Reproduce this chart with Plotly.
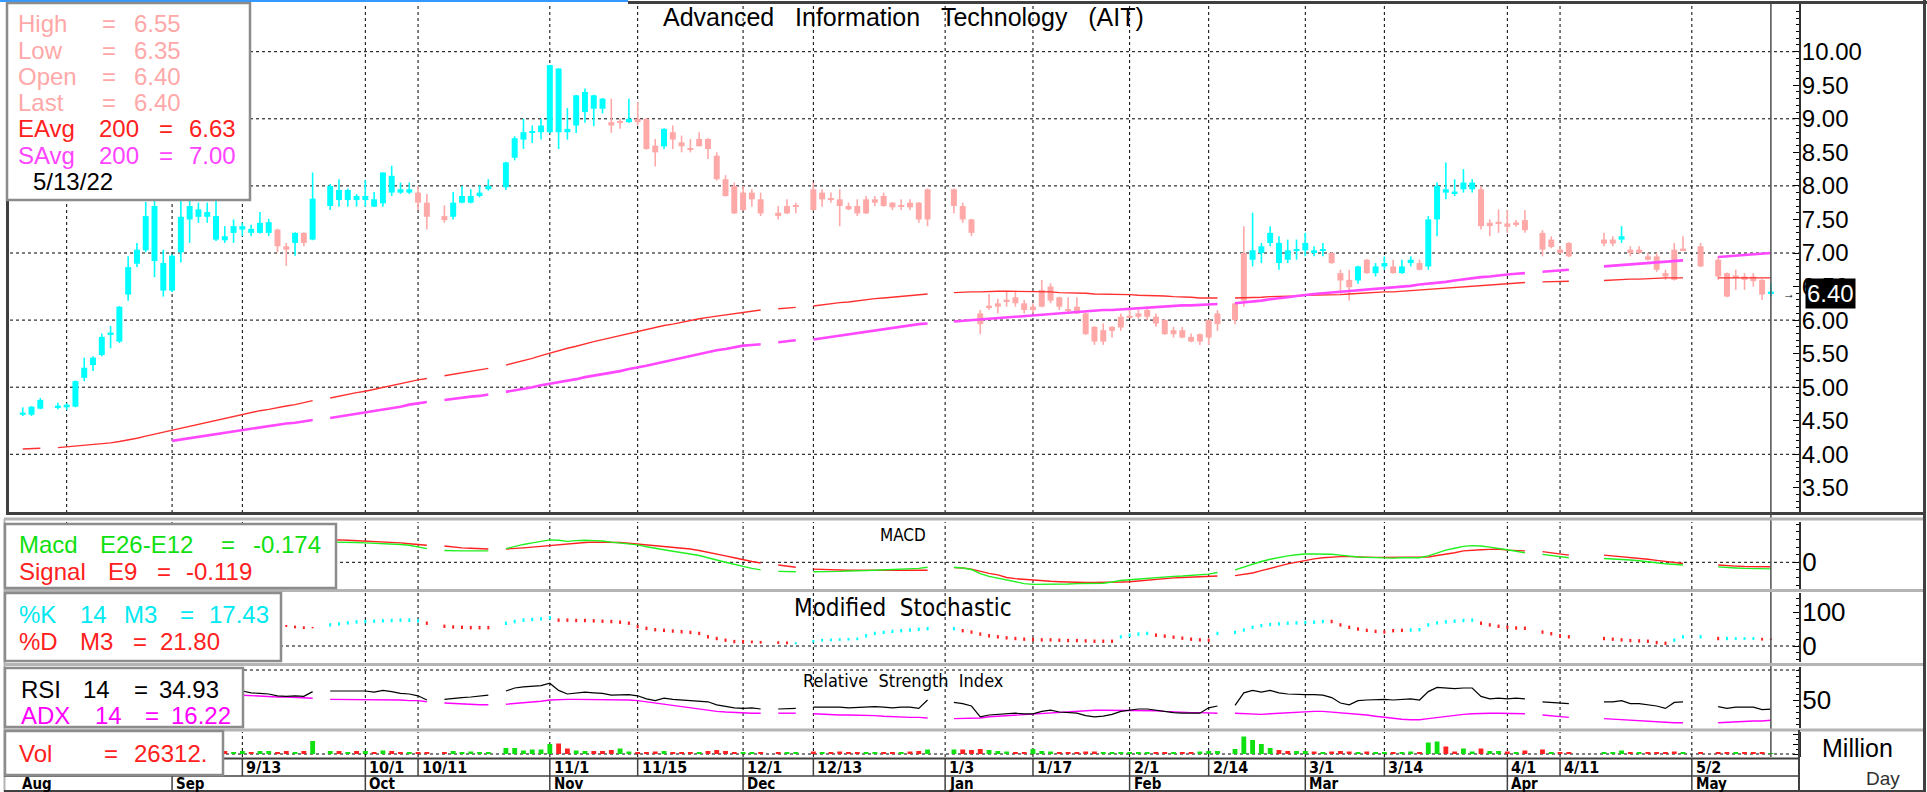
import pandas as pd
import plotly.graph_objects as go

W, H = 1927, 792
SANS = "Liberation Sans, Arial, sans-serif"
NARROW = "Liberation Sans Narrow, Arial Narrow, DejaVu Sans Condensed, sans-serif"

# ---------------- data ----------------
START, END = "2021-08-09", "2022-05-13"
HOLIDAYS = ["2021-08-12", "2021-09-24", "2021-10-13", "2021-10-22", "2021-12-06",
            "2021-12-10", "2021-12-31", "2022-01-03", "2022-02-16", "2022-04-06",
            "2022-04-13", "2022-04-14", "2022-04-15", "2022-05-02", "2022-05-04"]

OPEN = [4.59,4.59,4.68,4.70,4.70,4.71,5.14,5.33,5.48,5.79,5.68,6.38,6.84,7.04,6.88,6.44,
        6.44,7.01,7.50,7.54,7.54,7.20,7.19,7.30,7.35,7.30,7.30,7.30,7.35,7.10,7.15,7.30,7.20,7.70,7.79,7.79,7.79,
        7.79,7.69,7.74,7.90,7.90,7.90,7.90,7.75,7.55,7.54,7.75,7.75,7.85,7.95,7.98,8.42,8.69,8.79,8.80,
        8.80,8.80,8.80,8.90,9.10,9.15,9.15,8.95,8.96,8.95,9.00,9.00,8.60,8.59,8.80,8.65,8.56,8.70,8.70,8.45,8.10,8.00,
        7.90,7.90,7.80,7.60,7.70,7.71,7.95,7.90,7.81,7.80,7.70,7.70,7.80,7.80,7.85,7.75,7.71,7.75,7.75,7.95,
        7.95,7.70,7.50,6.10,6.21,6.25,6.30,6.34,6.25,6.20,6.45,6.50,6.34,6.16,6.20,6.10,5.90,5.85,5.90,6.05,
        6.06,6.10,6.15,6.05,6.00,5.85,5.85,5.75,5.79,6.00,6.10,6.25,7.00,6.90,7.00,7.15,6.85,6.90,7.03,
        7.04,7.00,7.03,7.00,6.70,6.60,6.59,6.90,6.70,6.80,6.80,6.70,6.85,6.85,6.80,7.50,7.90,7.89,7.95,7.95,7.95,7.45,7.46,
        7.44,7.45,7.49,7.30,7.20,7.05,7.15,7.20,7.20,7.20,7.05,7.05,6.95,6.95,6.70,7.05,7.06,
        7.10,6.90,6.70,6.66,6.65,6.65,6.60,6.40]
HIGH = [4.70,4.72,4.84,4.77,4.76,5.10,5.44,5.46,5.80,5.91,6.21,6.95,7.15,7.76,7.80,7.05,
        6.98,7.86,7.81,7.75,7.75,7.80,7.40,7.50,7.45,7.42,7.61,7.51,7.36,7.15,7.31,7.31,8.20,8.03,8.10,7.96,7.88,
        8.09,7.91,8.20,8.30,8.05,8.05,8.00,7.88,7.71,7.91,8.00,7.95,8.01,8.10,8.36,8.74,9.00,8.90,9.00,
        9.80,9.75,9.16,9.36,9.45,9.36,9.31,9.30,9.00,9.30,9.25,9.01,8.70,8.86,8.90,8.75,8.70,8.80,8.71,8.50,8.16,8.05,
        8.00,7.95,7.90,7.70,7.80,7.75,8.05,7.95,7.90,7.95,7.75,7.80,7.85,7.85,7.90,7.76,7.80,7.80,7.76,7.96,
        7.96,7.75,7.51,6.15,6.39,6.32,6.42,6.42,6.30,6.25,6.60,6.55,6.35,6.34,6.34,6.11,5.91,5.95,5.91,6.10,
        6.17,6.15,6.20,6.10,6.01,5.90,5.90,5.80,5.80,6.01,6.15,6.26,7.40,7.60,7.15,7.40,7.25,7.20,7.20,
        7.30,7.10,7.15,7.01,6.75,6.75,6.81,6.91,6.85,6.95,6.90,6.90,6.95,6.90,7.55,8.05,8.35,8.10,8.25,8.10,8.00,7.50,7.65,
        7.64,7.49,7.64,7.34,7.25,7.10,7.16,7.30,7.25,7.40,7.10,7.10,7.00,7.00,6.75,7.15,7.25,
        7.15,6.95,6.71,6.75,6.70,6.70,6.61,6.55]
LOW = [4.57,4.57,4.67,4.67,4.66,4.70,5.09,5.24,5.46,5.58,5.66,6.29,6.79,7.01,6.64,6.35,
       6.42,6.86,7.15,7.45,7.45,7.18,7.15,7.15,7.25,7.25,7.29,7.25,7.01,6.81,6.96,7.10,7.19,7.64,7.69,7.69,7.69,
       7.69,7.69,7.69,7.85,7.88,7.88,7.64,7.35,7.45,7.50,7.74,7.74,7.83,7.93,7.94,8.38,8.55,8.64,8.69,
       8.78,8.55,8.69,8.79,8.94,8.89,9.08,8.79,8.85,8.94,8.90,8.54,8.29,8.55,8.55,8.50,8.50,8.59,8.40,8.08,7.84,7.58,
       7.63,7.69,7.55,7.50,7.58,7.59,7.63,7.69,7.75,7.40,7.64,7.55,7.58,7.70,7.69,7.64,7.64,7.64,7.45,7.40,
       7.59,7.45,7.25,5.79,6.15,6.10,6.20,6.20,6.10,6.10,6.19,6.25,6.15,6.10,6.09,5.78,5.63,5.63,5.74,5.84,
       6.04,6.02,6.00,5.90,5.78,5.74,5.73,5.67,5.63,5.63,5.84,5.94,6.20,6.80,6.85,7.10,6.75,6.85,6.90,
       6.95,6.95,6.95,6.84,6.39,6.29,6.54,6.69,6.65,6.75,6.69,6.69,6.80,6.74,6.75,7.25,7.80,7.85,7.90,7.90,7.35,7.25,7.30,
       7.30,7.39,7.30,6.95,7.07,6.99,6.94,7.10,7.10,7.15,6.95,6.99,6.89,6.72,6.60,6.59,7.04,
       6.79,6.60,6.34,6.45,6.45,6.50,6.30,6.35]
CLOSE = [4.62,4.71,4.81,4.72,4.74,5.09,5.29,5.44,5.75,5.81,6.20,6.79,7.05,7.55,7.70,6.85,
         6.96,7.54,7.70,7.65,7.61,7.55,7.25,7.40,7.40,7.36,7.45,7.46,7.10,7.05,7.30,7.15,7.81,8.00,7.94,7.94,7.85,
         7.85,7.80,8.20,8.15,7.95,7.95,7.75,7.54,7.49,7.75,7.85,7.85,7.90,8.00,8.35,8.71,8.80,8.81,8.90,
         9.80,9.75,8.85,9.35,9.40,9.35,9.30,8.90,8.94,9.00,8.95,8.55,8.50,8.85,8.69,8.59,8.54,8.59,8.55,8.10,7.85,7.59,
         7.64,7.80,7.59,7.55,7.59,7.69,7.64,7.80,7.79,7.70,7.65,7.59,7.59,7.75,7.70,7.68,7.69,7.68,7.50,7.50,
         7.70,7.50,7.30,5.94,6.19,6.20,6.28,6.25,6.15,6.15,6.20,6.29,6.20,6.14,6.10,5.79,5.68,5.68,5.84,5.89,
         6.04,6.05,6.05,5.95,5.79,5.79,5.74,5.68,5.68,5.74,5.94,6.00,6.29,7.04,7.10,7.30,7.15,7.04,7.05,
         7.15,7.04,7.05,6.85,6.59,6.49,6.80,6.70,6.80,6.85,6.70,6.80,6.90,6.75,7.50,8.00,7.95,7.91,8.05,8.05,7.40,7.40,7.44,
         7.39,7.43,7.34,7.05,7.09,7.00,6.95,7.14,7.14,7.25,7.00,7.00,6.90,6.75,6.65,6.60,7.04,
         6.80,6.65,6.35,6.64,6.60,6.58,6.38,6.40]

EMA200 = [4.08,4.08,4.09,4.10,4.11,4.12,4.13,4.14,4.15,4.17,4.19,4.21,4.24,4.27,4.30,4.33,
          4.36,4.39,4.42,4.45,4.48,4.51,4.54,4.57,4.60,4.62,4.65,4.67,4.70,4.72,4.74,4.77,4.80,4.84,4.87,4.89,4.92,
          4.94,4.97,5.00,5.03,5.06,5.08,5.11,5.13,5.17,5.19,5.21,5.24,5.26,5.28,5.33,5.36,5.40,5.43,5.47,
          5.51,5.54,5.58,5.61,5.65,5.68,5.71,5.74,5.77,5.80,5.84,5.86,5.89,5.92,5.94,5.97,5.99,6.02,6.04,6.06,6.08,6.10,
          6.12,6.14,6.15,6.17,6.18,6.19,6.21,6.23,6.24,6.26,6.27,6.29,6.30,6.32,6.33,6.34,6.36,6.37,6.38,6.39,
          6.41,6.42,6.42,6.42,6.43,6.43,6.43,6.43,6.42,6.42,6.42,6.42,6.41,6.41,6.40,6.40,6.39,6.39,6.38,6.38,
          6.38,6.37,6.37,6.36,6.36,6.35,6.35,6.34,6.33,6.33,6.33,6.33,6.33,6.34,6.34,6.35,6.35,6.36,6.36,
          6.37,6.37,6.38,6.38,6.38,6.39,6.40,6.40,6.41,6.42,6.42,6.43,6.44,6.44,6.45,6.46,6.47,6.49,6.50,6.51,6.52,6.53,6.54,
          6.55,6.55,6.56,6.57,6.57,6.58,6.58,6.59,6.60,6.60,6.61,6.61,6.62,6.62,6.63,6.63,6.63,
          6.63,6.63,6.63,6.63,6.63,6.63,6.63,6.63]
SMA200 = [None] * 16 + [
          4.20,4.22,4.24,4.27,4.29,4.31,4.33,4.35,4.37,4.39,4.40,4.42,4.44,4.46,4.47,4.49,4.51,4.54,4.56,4.58,4.60,
          4.62,4.64,4.67,4.69,4.71,4.74,4.76,4.78,4.81,4.83,4.84,4.86,4.87,4.89,4.93,4.95,4.98,5.00,5.03,
          5.05,5.07,5.10,5.12,5.15,5.17,5.19,5.22,5.24,5.27,5.29,5.32,5.35,5.38,5.40,5.43,5.46,5.49,5.52,5.55,5.57,5.60,
          5.62,5.63,5.64,5.67,5.68,5.70,5.71,5.73,5.75,5.77,5.79,5.81,5.83,5.85,5.87,5.89,5.90,5.92,5.94,5.95,
          5.98,5.99,6.00,6.01,6.02,6.03,6.04,6.05,6.07,6.08,6.09,6.10,6.10,6.11,6.12,6.13,6.14,6.15,6.15,6.16,
          6.17,6.18,6.19,6.19,6.20,6.21,6.22,6.22,6.23,6.24,6.24,6.25,6.26,6.28,6.29,6.31,6.32,6.34,6.36,
          6.38,6.39,6.40,6.41,6.42,6.43,6.44,6.45,6.46,6.47,6.48,6.50,6.51,6.53,6.54,6.56,6.57,6.59,6.61,6.62,6.64,6.65,6.67,
          6.68,6.69,6.70,6.72,6.73,6.74,6.75,6.80,6.81,6.82,6.83,6.84,6.85,6.86,6.87,6.88,6.89,
          6.92,6.94,6.95,6.96,6.97,6.98,6.99,7.00]

MACD = [0.05,0.07,0.09,0.11,0.13,0.17,0.21,0.25,0.30,0.34,0.40,0.47,0.53,0.60,0.64,0.62,
        0.63,0.66,0.68,0.69,0.69,0.67,0.64,0.62,0.60,0.58,0.56,0.55,0.52,0.49,0.48,0.46,0.50,0.53,0.53,0.52,0.52,
        0.51,0.50,0.50,0.49,0.47,0.45,0.41,0.36,0.31,0.30,0.30,0.30,0.30,0.30,0.36,0.42,0.47,0.51,0.55,
        0.59,0.58,0.55,0.57,0.58,0.57,0.56,0.53,0.51,0.49,0.46,0.41,0.36,0.33,0.29,0.26,0.22,0.18,0.13,0.06,0.00,-0.06,
        -0.12,-0.16,-0.20,-0.24,-0.25,-0.25,-0.25,-0.25,-0.24,-0.24,-0.23,-0.23,-0.22,-0.21,-0.20,-0.19,-0.18,-0.17,-0.16,-0.13,
        -0.13,-0.15,-0.19,-0.30,-0.37,-0.42,-0.48,-0.53,-0.56,-0.58,-0.58,-0.57,-0.57,-0.57,-0.56,-0.56,-0.56,-0.55,-0.52,-0.48,
        -0.46,-0.44,-0.42,-0.40,-0.38,-0.37,-0.36,-0.34,-0.33,-0.31,-0.27,-0.20,-0.12,-0.05,0.02,0.08,0.13,0.17,0.20,
        0.22,0.22,0.22,0.21,0.19,0.16,0.14,0.13,0.12,0.11,0.11,0.12,0.12,0.12,0.17,0.25,0.32,0.37,0.42,0.44,0.43,0.40,0.37,
        0.33,0.29,0.25,0.21,0.18,0.14,0.12,0.10,0.09,0.08,0.06,0.04,0.02,-0.01,-0.04,-0.06,-0.07,
        -0.09,-0.12,-0.14,-0.15,-0.16,-0.16,-0.17,-0.174]
SIGNAL = [0.02,0.03,0.04,0.05,0.07,0.09,0.11,0.14,0.17,0.20,0.24,0.28,0.33,0.38,0.43,0.47,
          0.50,0.53,0.56,0.58,0.60,0.61,0.62,0.62,0.62,0.61,0.60,0.60,0.59,0.58,0.57,0.56,0.56,0.58,0.59,0.58,0.57,
          0.56,0.55,0.54,0.53,0.51,0.49,0.47,0.45,0.43,0.40,0.38,0.37,0.36,0.35,0.35,0.36,0.38,0.40,0.42,
          0.44,0.47,0.49,0.50,0.52,0.53,0.53,0.53,0.52,0.50,0.48,0.46,0.44,0.42,0.40,0.37,0.35,0.31,0.27,0.22,0.17,0.12,
          0.06,0.02,-0.02,-0.07,-0.10,-0.13,-0.18,-0.19,-0.20,-0.21,-0.21,-0.21,-0.21,-0.21,-0.21,-0.21,-0.21,-0.21,-0.21,-0.21,
          -0.14,-0.15,-0.18,-0.24,-0.29,-0.33,-0.40,-0.43,-0.45,-0.46,-0.48,-0.50,-0.51,-0.52,-0.53,-0.53,-0.53,-0.53,-0.52,-0.52,
          -0.51,-0.49,-0.47,-0.45,-0.42,-0.41,-0.40,-0.39,-0.38,-0.37,-0.36,-0.35,-0.32,-0.28,-0.22,-0.15,-0.10,-0.04,0.01,
          0.06,0.09,0.12,0.14,0.15,0.15,0.14,0.14,0.13,0.13,0.13,0.13,0.13,0.13,0.14,0.18,0.21,0.25,0.30,0.32,0.33,0.34,0.35,
          0.32,0.31,0.30,0.28,0.25,0.21,0.19,0.19,0.17,0.15,0.12,0.10,0.08,0.05,0.02,-0.01,-0.03,
          -0.05,-0.07,-0.09,-0.10,-0.11,-0.11,-0.12,-0.119]

STOCH_K = [60,70,80,82,85,90,92,94,95,95,96,97,96,96,90,80,
           78,82,85,84,82,76,70,66,64,62,60,60,56,56,52,50,52,67,70,73,76,
           77,78,79,80,81,81,79,62,53,51,50,49,49,49,72,77,81,83,85,
           88,71,71,70,70,69,68,67,65,62,52,47,43,41,39,37,35,32,22,17,12,8,
           8,8,7,6,5,11,18,21,22,23,24,25,35,42,45,48,50,52,54,56,
           56,40,36,30,25,22,19,17,15,14,13,13,12,11,11,10,9,9,9,32,
           37,40,42,27,24,21,18,15,13,12,42,45,52,60,65,68,70,72,73,
           74,75,77,67,57,50,45,41,38,36,40,41,52,53,67,73,76,78,80,81,62,57,53,
           50,48,47,36,31,25,22,17,15,13,11,10,9,5,3,22,32,
           32,17,27,26,26,26,16,17.43]
STOCH_D = [55,60,70,78,80,84,88,90,92,94,94,95,96,96,94,88,
           84,82,82,84,84,82,78,72,68,66,64,62,60,62,60,58,56,57,60,63,66,
           67,68,69,70,71,71,69,72,63,61,60,59,59,59,62,67,71,73,75,
           78,81,81,80,80,79,78,77,75,72,62,57,53,51,49,47,45,42,32,27,22,18,
           18,16,15,14,13,5,10,13,14,15,16,17,25,32,35,38,40,42,44,46,
           46,50,46,40,35,32,29,27,25,24,23,23,22,21,21,20,19,19,19,22,
           27,30,32,37,34,31,28,25,23,22,32,35,42,50,55,58,60,62,63,
           64,65,67,77,67,60,55,51,48,46,50,51,42,43,57,63,66,68,70,71,72,67,63,
           60,58,57,46,41,35,32,27,25,23,21,20,19,15,13,12,22,
           22,27,17,18,18,18,24,21.80]

RSI = [55,60,64,64,65,72,75,77,80,80,84,87,88,90,88,80,
       81,84,84,83,82,75,72,70,65,62,61,60,57,56,57,56,64,65,65,64,65,
       65,63,66,64,61,60,57,50,51,53,54,55,56,58,65,70,72,73,74,
       78,66,60,61,63,62,61,58,58,59,57,52,49,53,51,50,49,49,47,42,39,37,
       36,37,35,35,36,36,38,38,39,38,37,38,38,39,38,37,38,38,36,50,
       46,44,40,22,25,26,27,28,27,27,31,33,30,29,28,24,22,23,26,31,
       33,35,35,33,30,29,28,28,28,37,40,41,62,66,63,66,62,60,59,
       59,59,58,54,45,42,49,50,51,51,50,51,52,50,64,71,70,69,70,70,56,52,53,
       52,53,52,47,46,45,44,47,47,49,44,44,42,40,36,46,47,
       42,39,36,38,38,38,34,34.93]
ADX = [20,21,22,23,24,26,28,30,33,35,38,41,44,47,50,52,
       54,56,58,59,60,60,60,59,58,57,56,56,55,55,54,54,53,51,51,51,51,
       51,50,50,50,50,49,49,47,45,44,43,43,42,42,43,44,45,46,48,
       50,51,51,51,51,51,51,50,50,50,49,47,44,42,40,38,37,35,33,31,30,29,
       29,28,28,28,28,28,27,26,25,25,25,25,24,24,23,22,21,21,21,20,
       19,19,19,20,22,23,24,25,26,27,28,29,30,30,31,32,33,33,33,33,
       33,33,32,32,31,30,30,29,29,29,28,28,27,26,26,27,28,29,30,
       31,31,31,30,29,28,27,25,23,21,19,18,17,17,19,21,23,25,26,27,28,28,28,
       28,28,27,25,24,22,21,19,18,18,16,15,14,13,13,12,12,
       12,12,13,13,14,15,15,16.22]

VOLUME_M = [0.3,0.4,0.5,0.3,0.3,1.2,0.8,0.7,0.9,0.6,1.5,1.4,1.0,1.3,1.2,0.8,
            0.8,0.9,0.5,0.4,0.3,0.4,0.3,0.2,0.3,0.2,0.3,0.3,0.2,0.3,0.2,0.3,1.3,0.3,0.3,0.2,0.3,
            0.3,0.2,0.35,0.3,0.2,0.2,0.2,0.15,0.15,0.3,0.2,0.25,0.2,0.2,0.6,0.6,0.35,0.45,0.45,
            1.0,1.05,0.55,0.35,0.3,0.3,0.3,0.4,0.55,0.25,0.2,0.2,0.25,0.3,0.2,0.2,0.2,0.2,0.3,0.4,0.3,0.2,
            0.2,0.2,0.15,0.2,0.15,0.2,0.25,0.2,0.15,0.25,0.2,0.2,0.15,0.2,0.15,0.2,0.2,0.25,0.3,0.45,
            0.45,0.45,0.4,0.5,0.4,0.3,0.25,0.2,0.2,0.5,0.3,0.25,0.2,0.2,0.2,0.25,0.25,0.2,0.15,0.15,
            0.15,0.2,0.2,0.2,0.15,0.2,0.15,0.2,0.25,0.3,0.3,0.5,1.75,1.4,1.0,0.6,0.4,0.3,0.3,
            0.3,0.25,0.2,0.25,0.3,0.25,0.2,0.25,0.15,0.15,0.2,0.2,0.25,0.2,1.15,1.25,0.75,0.25,0.55,0.25,0.55,0.3,0.3,
            0.25,0.2,0.35,0.45,0.15,0.15,0.15,0.2,0.2,0.35,0.2,0.15,0.2,0.2,0.2,0.25,0.2,
            0.15,0.2,0.2,0.15,0.2,0.15,0.2,0.026312]

WEEK_LABELS = ["9/13", "10/1", "10/11", "11/1", "11/15", "12/1", "12/13", "1/3", "1/17",
               "2/1", "2/14", "3/1", "3/14", "4/1", "4/11", "5/2"]
WEEK_DATES = ["2021-09-13", "2021-10-01", "2021-10-11", "2021-11-01", "2021-11-15", "2021-12-01",
              "2021-12-13", "2022-01-03", "2022-01-17", "2022-02-01", "2022-02-14", "2022-03-01",
              "2022-03-14", "2022-04-01", "2022-04-11", "2022-05-02"]
GRID_EXTRA_DATES = ["2021-08-16", "2021-09-01"]
MONTH_LABELS = ["Aug", "Sep", "Oct", "Nov", "Dec", "Jan", "Feb", "Mar", "Apr", "May"]
MONTH_DATES = ["2021-08-09", "2021-09-01", "2021-10-01", "2021-11-01", "2021-12-01", "2022-01-03",
               "2022-02-01", "2022-03-01", "2022-04-01", "2022-05-02"]

# ---------------- slot mapping ----------------
slots = pd.bdate_range(START, END)
N = len(slots)
pos = {d: i for i, d in enumerate(slots)}
hol = set(pd.to_datetime(HOLIDAYS))
X = [i for i, d in enumerate(slots) if d not in hol]
for arr in (OPEN, HIGH, LOW, CLOSE, EMA200, SMA200, MACD, SIGNAL, STOCH_K, STOCH_D, RSI, ADX, VOLUME_M):
    assert len(arr) == len(X), (len(arr), len(X))


def full(vals):
    out = [None] * N
    for x, v in zip(X, vals):
        out[x] = v
    return out


def xp(px):
    return px / W


def yp(py):
    return 1 - py / H


def slot(datestr):
    return pos[pd.Timestamp(datestr)]


# pixel geometry of panels
X_LEFT, X_AXIS, X_RIGHT = 10, 1799, 1923
MAIN = (4, 513)
MACD_P = (522, 589)
STO_P = (593, 662)
RSI_P = (667, 728)
VOL_P = (732, 757)

CYAN = "#00FFFF"
PINK = "#FFA8A8"

fig = go.Figure()

# ---- candles ----
for up, col in ((True, CYAN), (False, PINK)):
    idx = [i for i in range(len(X)) if (CLOSE[i] >= OPEN[i]) == up]
    wx, wy = [], []
    for i in idx:
        wx += [X[i], X[i], None]
        wy += [LOW[i], HIGH[i], None]
    fig.add_trace(go.Scatter(x=wx, y=wy, mode="lines", line=dict(color=col, width=1.6),
                             hoverinfo="skip", xaxis="x", yaxis="y"))
    fig.add_trace(go.Bar(x=[X[i] for i in idx],
                         base=[min(OPEN[i], CLOSE[i]) for i in idx],
                         y=[max(abs(CLOSE[i] - OPEN[i]), 0.025) for i in idx],
                         width=0.68, marker=dict(color=col, line=dict(width=0)),
                         hoverinfo="skip", xaxis="x", yaxis="y"))

allx = list(range(N))
fig.add_trace(go.Scatter(x=allx, y=full(EMA200), mode="lines", connectgaps=False,
                         line=dict(color="#FF3030", width=1.4), xaxis="x", yaxis="y"))
fig.add_trace(go.Scatter(x=allx, y=full(SMA200), mode="lines", connectgaps=False,
                         line=dict(color="#FF48FF", width=2.6), xaxis="x", yaxis="y"))

# ---- MACD ----
fig.add_trace(go.Scatter(x=allx, y=full(SIGNAL), mode="lines", connectgaps=False,
                         line=dict(color="#FF2020", width=1.4), xaxis="x", yaxis="y2"))
fig.add_trace(go.Scatter(x=allx, y=full(MACD), mode="lines", connectgaps=False,
                         line=dict(color="#20F020", width=1.4), xaxis="x", yaxis="y2"))

# ---- Stochastic dashes (from %D to %K) ----
for up, col in ((True, CYAN), (False, "#FF2020")):
    sx, sy = [], []
    for i in range(len(X)):
        if (STOCH_K[i] >= STOCH_D[i]) == up:
            sx += [X[i], X[i], None]
            sy += [STOCH_D[i], STOCH_K[i], None]
    fig.add_trace(go.Scatter(x=sx, y=sy, mode="lines", line=dict(color=col, width=2),
                             hoverinfo="skip", xaxis="x", yaxis="y3"))

# ---- RSI / ADX ----
fig.add_trace(go.Scatter(x=allx, y=full(ADX), mode="lines", connectgaps=False,
                         line=dict(color="#FF00FF", width=1.4), xaxis="x", yaxis="y4"))
fig.add_trace(go.Scatter(x=allx, y=full(RSI), mode="lines", connectgaps=False,
                         line=dict(color="#000000", width=1.2), xaxis="x", yaxis="y4"))

# ---- Volume ----
vcol = []
for i in range(len(X)):
    up = i == 0 or CLOSE[i] >= CLOSE[i - 1]
    vcol.append("#10E010" if up else "#FF2020")
fig.add_trace(go.Bar(x=X, y=VOLUME_M, width=0.55, marker=dict(color=vcol, line=dict(width=0)),
                     hoverinfo="skip", xaxis="x", yaxis="y5"))


def prange(top_px, bot_px, v_a, px_a, v_b, px_b):
    k = (px_b - px_a) / (v_b - v_a)
    return [v_a + (bot_px - px_a) / k, v_a + (top_px - px_a) / k]


tickfont = dict(family=SANS, size=24, color="black")
sub_tickfont = dict(family=SANS, size=26, color="black")


def yax(panel, rng, tickvals, ticktext, font, minor_dtick):
    return dict(domain=[yp(panel[1]), yp(panel[0])], range=rng, anchor="x", side="right",
                showgrid=False, zeroline=False, showline=True, linecolor="#303030", linewidth=2,
                ticks="inside", ticklen=6, tickwidth=1, tickcolor="black",
                tickmode="array", tickvals=tickvals, ticktext=ticktext, tickfont=font,
                ticklabelstandoff=-4,
                minor=dict(ticks="inside", ticklen=3, tickcolor="black", dtick=minor_dtick, showgrid=False),
                fixedrange=True)


price_ticks = [3.5 + 0.5 * i for i in range(14)]
fig.update_layout(
    width=W, height=H, margin=dict(l=0, r=0, t=0, b=0),
    paper_bgcolor="white", plot_bgcolor="white", showlegend=False, barmode="overlay",
    xaxis=dict(domain=[xp(X_LEFT), xp(X_AXIS)], range=[-1.45, 202.2], visible=False, fixedrange=True),
    yaxis=yax(MAIN, prange(*MAIN, 10, 51.7, 4, 454.3), price_ticks, [f"{v:.2f}" for v in price_ticks],
              tickfont, 0.1),
    yaxis2=yax(MACD_P, prange(*MACD_P, 0, 562.3, 1, 524.3), [0], ["0"], sub_tickfont, 0.2),
    yaxis3=yax(STO_P, prange(*STO_P, 0, 646, 100, 612), [0, 100], ["0", "100"], sub_tickfont, 20),
    yaxis4=yax(RSI_P, prange(*RSI_P, 50, 700, 0, 730), [50], ["50"], sub_tickfont, 10),
    yaxis5=yax(VOL_P, prange(*VOL_P, 0, 754, 1, 744), [0, 1, 2], ["", "", ""], sub_tickfont, 0.5),
)

shapes = []
ann = []

DOT = dict(color="black", width=1, dash="dot")

# horizontal dotted grid lines
for v in range(4, 11):
    shapes.append(dict(type="line", xref="paper", yref="y", x0=xp(X_LEFT), x1=xp(X_AXIS), y0=v, y1=v,
                       line=DOT, layer="below"))
for yr, v in (("y2", 0), ("y3", 0), ("y4", 100), ("y5", 0)):
    shapes.append(dict(type="line", xref="paper", yref=yr, x0=xp(X_LEFT), x1=xp(X_AXIS), y0=v, y1=v,
                       line=DOT, layer="below"))

# vertical dotted grid lines
grid_slots = [slot(d) for d in GRID_EXTRA_DATES + WEEK_DATES]
for g in grid_slots:
    for p in (MAIN, MACD_P, STO_P, RSI_P, VOL_P):
        shapes.append(dict(type="line", xref="x", yref="paper", x0=g, x1=g, y0=yp(p[1]), y1=yp(p[0]),
                           line=DOT, layer="below"))

# current-date line
shapes.append(dict(type="line", xref="x", yref="paper", x0=X[-1], x1=X[-1], y0=yp(757), y1=yp(4),
                   line=dict(color="#505050", width=1.5), layer="above"))

FRAME = "#404040"
GREY = "#B4B4B4"


def hline(y, x0, x1, color, width):
    shapes.append(dict(type="line", xref="paper", yref="paper", x0=xp(x0), x1=xp(x1), y0=yp(y), y1=yp(y),
                       line=dict(color=color, width=width), layer="above"))


def vline(x, y0, y1, color, width):
    shapes.append(dict(type="line", xref="paper", yref="paper", x0=xp(x), x1=xp(x), y0=yp(y0), y1=yp(y1),
                       line=dict(color=color, width=width), layer="above"))


# frames
hline(1, 0, 628, "#3399FF", 2)
hline(2.5, 628, W, FRAME, 3)
vline(7.5, 2, 513, FRAME, 3)
hline(513.5, 6, X_RIGHT, FRAME, 3)
hline(519, 4, X_RIGHT, GREY, 3)
hline(590.5, 4, X_RIGHT, GREY, 3)
hline(664.5, 4, X_RIGHT, GREY, 3)
hline(730, 4, X_RIGHT, GREY, 3)
vline(X_RIGHT + 1.5, 0, H, FRAME, 3)
vline(4.5, 519, H, GREY, 2)
vline(X_AXIS, 730, H, FRAME, 2)
hline(758.5, 4, X_AXIS, FRAME, 2)
hline(776, 4, X_AXIS, FRAME, 1.5)
hline(791, 4, X_RIGHT, FRAME, 2)

# date axis separators & labels
DATEFONT = dict(family=NARROW, size=16, color="black")
MONTHFONT = dict(family=NARROW, size=15, color="black")
for lab, d in zip(WEEK_LABELS, WEEK_DATES):
    s = slot(d)
    shapes.append(dict(type="line", xref="x", yref="paper", x0=s, x1=s, y0=yp(776), y1=yp(758.5),
                       line=dict(color=FRAME, width=1.5), layer="above"))
    ann.append(dict(text=f"<b>{lab}</b>", xref="x", yref="paper", x=s, y=yp(767.5), xanchor="left",
                    yanchor="middle", xshift=2, showarrow=False, font=DATEFONT))
for lab, d in zip(MONTH_LABELS, MONTH_DATES):
    s = slot(d)
    if lab != "Aug":
        shapes.append(dict(type="line", xref="x", yref="paper", x0=s, x1=s, y0=yp(792), y1=yp(776),
                           line=dict(color=FRAME, width=1.5), layer="above"))
        ann.append(dict(text=f"<b>{lab}</b>", xref="x", yref="paper", x=s, y=yp(783.5), xanchor="left",
                        yanchor="middle", xshift=2, showarrow=False, font=MONTHFONT))
    else:
        ann.append(dict(text=f"<b>{lab}</b>", xref="paper", yref="paper", x=xp(20), y=yp(783.5),
                        xanchor="left", yanchor="middle", showarrow=False, font=MONTHFONT))


def box(x0, y0, x1, y1):
    shapes.append(dict(type="rect", xref="paper", yref="paper", x0=xp(x0), x1=xp(x1), y0=yp(y1), y1=yp(y0),
                       fillcolor="white", line=dict(color="#8C8C8C", width=2.5), layer="above"))


def txt(s, x, y, color, size=24, family=SANS, anchor="left"):
    ann.append(dict(text=s, xref="paper", yref="paper", x=xp(x), y=yp(y), xanchor=anchor,
                    yanchor="middle", showarrow=False, font=dict(family=family, size=size, color=color)))


# price legend box
box(7, 3, 250, 200)
LP = "#FFA8A8"
for (lab, val), yy in zip((("High", "6.55"), ("Low", "6.35"), ("Open", "6.40"), ("Last", "6.40")),
                          (24, 50, 77, 102)):
    txt(lab, 16, yy, LP)
    txt("=", 100, yy, LP)
    txt(val, 132, yy, LP)
for (lab, n, val, col), yy in ((("EAvg", "200", "6.63", "#FF2020"), 128),
                               (("SAvg", "200", "7.00", "#FF44FF"), 155)):
    txt(lab, 16, yy, col)
    txt(n, 97, yy, col)
    txt("=", 157, yy, col)
    txt(val, 187, yy, col)
txt("5/13/22", 31, 181, "black")

# MACD box
box(5, 524, 336, 588)
G = "#10E010"
R = "#FF2020"
for s, x in (("Macd", 17), ("E26-E12", 98), ("=", 219), ("-0.174", 251)):
    txt(s, x, 544, G)
for s, x in (("Signal", 17), ("E9", 106), ("=", 155), ("-0.119", 184)):
    txt(s, x, 571, R)

# Stochastic box
box(5, 593, 281, 661)
for s, x in (("%K", 17), ("14", 78), ("M3", 122), ("=", 178), ("17.43", 207)):
    txt(s, x, 614, "#00E8F0")
for s, x in (("%D", 17), ("M3", 78), ("=", 131), ("21.80", 158)):
    txt(s, x, 641, R)

# RSI box
box(5, 668, 243, 727)
for s, x in (("RSI", 19), ("14", 81), ("=", 132), ("34.93", 157)):
    txt(s, x, 689, "black")
for s, x in (("ADX", 19), ("14", 93), ("=", 143), ("16.22", 169)):
    txt(s, x, 715, "#FF00FF")

# Volume box
box(5, 731, 223, 775)
for s, x in (("Vol", 17), ("=", 102), ("26312.", 132)):
    txt(s, x, 753, R)

# titles
txt("Advanced\u00a0\u00a0\u00a0Information\u00a0\u00a0\u00a0Technology\u00a0\u00a0\u00a0(AIT)", 903, 17, "black", 25, SANS, "center")
txt("MACD", 903, 535, "black", 17, NARROW, "center")
txt("Modified\u00a0\u00a0Stochastic", 903, 608, "black", 24, NARROW, "center")
txt("Relative\u00a0\u00a0Strength\u00a0\u00a0Index", 903, 680, "black", 18, NARROW, "center")

# right side labels
txt("Million", 1857, 748, "black", 25, SANS, "center")
txt("Day", 1883, 778, "#303030", 19, SANS, "center")

# last price marker
ann.append(dict(text="6.40", xref="paper", yref="paper", x=xp(1830), y=yp(293.5), xanchor="center",
                yanchor="middle", showarrow=False, bgcolor="black", borderpad=1,
                font=dict(family=SANS, size=24, color="white")))
txt("\u2192", 1789, 294, "black", 12, SANS, "center")

fig.update_layout(shapes=shapes, annotations=ann)
fig.write_html("out.html", config={"displayModeBar": False},
               post_script="document.body.style.margin='0';document.body.style.overflow='hidden';")
